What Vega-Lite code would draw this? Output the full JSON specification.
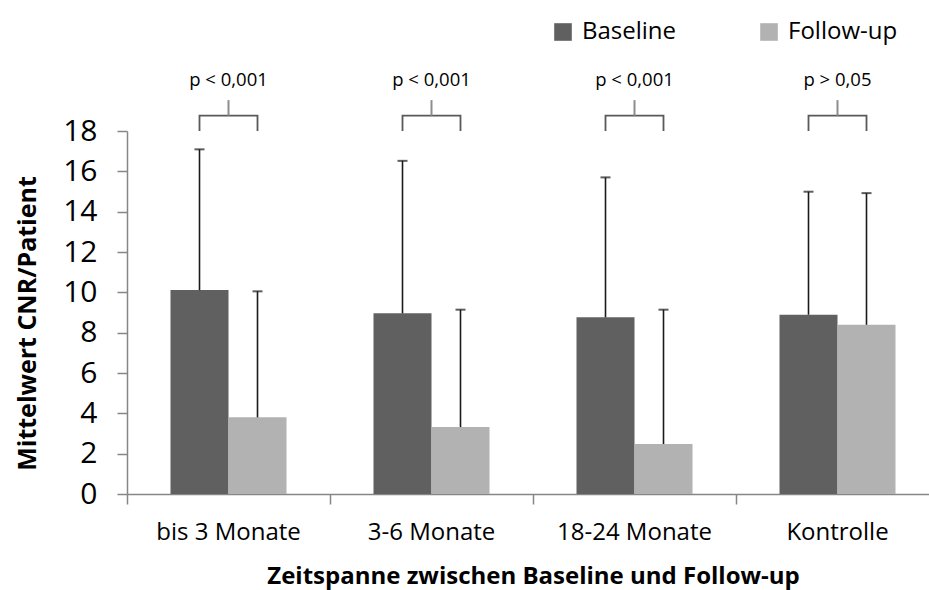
{
  "$schema": "https://vega.github.io/schema/vega-lite/v6.json",
  "width": 802,
  "height": 363,
  "autosize": {"type": "none"},
  "padding": {"left": 127, "top": 131, "right": 0, "bottom": 96},
  "background": "white",
  "config": {"view": {"stroke": null}, "font": "Open Sans", "axis": {"grid": false}},
  "datasets": {
    "bars": [
      {"cat": "bis 3 Monate", "series": "Baseline", "value": 10.11, "upper": 17.09},
      {"cat": "bis 3 Monate", "series": "Follow-up", "value": 3.80, "upper": 10.05},
      {"cat": "3-6 Monate", "series": "Baseline", "value": 8.96, "upper": 16.52},
      {"cat": "3-6 Monate", "series": "Follow-up", "value": 3.32, "upper": 9.14},
      {"cat": "18-24 Monate", "series": "Baseline", "value": 8.76, "upper": 15.70},
      {"cat": "18-24 Monate", "series": "Follow-up", "value": 2.48, "upper": 9.14},
      {"cat": "Kontrolle", "series": "Baseline", "value": 8.89, "upper": 14.99},
      {"cat": "Kontrolle", "series": "Follow-up", "value": 8.39, "upper": 14.92}
    ],
    "brackets": [
      {"cat": "bis 3 Monate", "series": "Baseline", "ord": 1, "y": 18.0},
      {"cat": "bis 3 Monate", "series": "Baseline", "ord": 2, "y": 18.76},
      {"cat": "bis 3 Monate", "series": "Follow-up", "ord": 3, "y": 18.76},
      {"cat": "bis 3 Monate", "series": "Follow-up", "ord": 4, "y": 18.0},
      {"cat": "3-6 Monate", "series": "Baseline", "ord": 1, "y": 18.0},
      {"cat": "3-6 Monate", "series": "Baseline", "ord": 2, "y": 18.76},
      {"cat": "3-6 Monate", "series": "Follow-up", "ord": 3, "y": 18.76},
      {"cat": "3-6 Monate", "series": "Follow-up", "ord": 4, "y": 18.0},
      {"cat": "18-24 Monate", "series": "Baseline", "ord": 1, "y": 18.0},
      {"cat": "18-24 Monate", "series": "Baseline", "ord": 2, "y": 18.76},
      {"cat": "18-24 Monate", "series": "Follow-up", "ord": 3, "y": 18.76},
      {"cat": "18-24 Monate", "series": "Follow-up", "ord": 4, "y": 18.0},
      {"cat": "Kontrolle", "series": "Baseline", "ord": 1, "y": 18.0},
      {"cat": "Kontrolle", "series": "Baseline", "ord": 2, "y": 18.76},
      {"cat": "Kontrolle", "series": "Follow-up", "ord": 3, "y": 18.76},
      {"cat": "Kontrolle", "series": "Follow-up", "ord": 4, "y": 18.0}
    ],
    "annots": [
      {"cat": "bis 3 Monate", "p": "p < 0,001", "s1": 18.76, "s2": 19.53, "ty": 20.23},
      {"cat": "3-6 Monate", "p": "p < 0,001", "s1": 18.76, "s2": 19.53, "ty": 20.23},
      {"cat": "18-24 Monate", "p": "p < 0,001", "s1": 18.76, "s2": 19.53, "ty": 20.23},
      {"cat": "Kontrolle", "p": "p > 0,05", "s1": 18.76, "s2": 19.53, "ty": 20.23}
    ]
  },
  "layer": [
    {
      "data": {"name": "bars"},
      "mark": {"type": "bar"},
      "encoding": {
        "x": {
          "field": "cat", "type": "nominal",
          "sort": ["bis 3 Monate", "3-6 Monate", "18-24 Monate", "Kontrolle"],
          "scale": {"range": [0, 812], "paddingInner": 0, "paddingOuter": 0},
          "title": "Zeitspanne zwischen Baseline und Follow-up",
          "axis": {
            "bandPosition": 0, "labelAngle": 0,
            "domainColor": "#868686", "domainWidth": 1.5, "tickColor": "#868686", "tickWidth": 1.5, "tickSize": 10,
            "labelFontSize": 24, "labelColor": "#000", "labelPadding": 16, "labelFont": "Open Sans",
            "titleFontSize": 24, "titleFontWeight": "bold", "titleColor": "#000", "titleFont": "Open Sans",
            "titleX": 406, "titleY": 89, "titleBaseline": "alphabetic"
          }
        },
        "xOffset": {"field": "series", "type": "nominal", "sort": ["Baseline", "Follow-up"], "scale": {"paddingInner": 0, "paddingOuter": 0.75}},
        "y": {
          "field": "value", "type": "quantitative",
          "scale": {"domain": [0, 18], "nice": false},
          "title": "Mittelwert CNR/Patient",
          "axis": {
            "values": [0, 2, 4, 6, 8, 10, 12, 14, 16, 18],
            "domainColor": "#868686", "domainWidth": 1.5, "tickColor": "#868686", "tickWidth": 1.5, "tickSize": 10,
            "labelFontSize": 30, "labelColor": "#000", "labelPadding": 20, "labelFont": "Open Sans",
            "titleFontSize": 25, "titleFontWeight": "bold", "titleColor": "#000", "titleFont": "Open Sans",
            "titleAngle": -90, "titleX": -100, "titleY": 192, "titleAlign": "center", "titleBaseline": "middle"
          }
        },
        "color": {
          "field": "series", "type": "nominal",
          "scale": {"domain": ["Baseline", "Follow-up"], "range": ["#606060", "#b2b2b2"]},
          "legend": {
            "orient": "none", "legendX": 424, "legendY": -111, "direction": "horizontal", "title": null,
            "symbolType": "square", "symbolSize": 310, "symbolStrokeWidth": 0,
            "labelFont": "Open Sans", "labelFontSize": 24, "labelColor": "#000", "labelOffset": 7,
            "columnPadding": 80, "padding": 0
          }
        }
      }
    },
    {
      "data": {"name": "bars"},
      "mark": {"type": "rule", "color": "#1a1a1a", "strokeWidth": 1.6},
      "encoding": {
        "x": {"field": "cat", "type": "nominal", "sort": ["bis 3 Monate", "3-6 Monate", "18-24 Monate", "Kontrolle"], "title": "Zeitspanne zwischen Baseline und Follow-up"},
        "xOffset": {"field": "series", "type": "nominal", "sort": ["Baseline", "Follow-up"]},
        "y": {"field": "value", "type": "quantitative", "title": "Mittelwert CNR/Patient"},
        "y2": {"field": "upper"}
      }
    },
    {
      "data": {"name": "bars"},
      "mark": {"type": "tick", "orient": "horizontal", "size": 10, "thickness": 2, "color": "#1a1a1a"},
      "encoding": {
        "x": {"field": "cat", "type": "nominal", "sort": ["bis 3 Monate", "3-6 Monate", "18-24 Monate", "Kontrolle"], "title": "Zeitspanne zwischen Baseline und Follow-up"},
        "xOffset": {"field": "series", "type": "nominal", "sort": ["Baseline", "Follow-up"]},
        "y": {"field": "upper", "type": "quantitative", "title": "Mittelwert CNR/Patient"}
      }
    },
    {
      "data": {"name": "brackets"},
      "mark": {"type": "line", "color": "#595959", "strokeWidth": 1.8},
      "encoding": {
        "x": {"field": "cat", "type": "nominal", "sort": ["bis 3 Monate", "3-6 Monate", "18-24 Monate", "Kontrolle"], "title": "Zeitspanne zwischen Baseline und Follow-up"},
        "xOffset": {"field": "series", "type": "nominal", "sort": ["Baseline", "Follow-up"]},
        "y": {"field": "y", "type": "quantitative", "title": "Mittelwert CNR/Patient"},
        "detail": {"field": "cat"},
        "order": {"field": "ord"}
      }
    },
    {
      "data": {"name": "annots"},
      "mark": {"type": "rule", "color": "#8c8c8c", "strokeWidth": 2},
      "encoding": {
        "x": {"field": "cat", "type": "nominal", "sort": ["bis 3 Monate", "3-6 Monate", "18-24 Monate", "Kontrolle"], "title": "Zeitspanne zwischen Baseline und Follow-up"},
        "y": {"field": "s1", "type": "quantitative", "title": "Mittelwert CNR/Patient"},
        "y2": {"field": "s2"}
      }
    },
    {
      "data": {"name": "annots"},
      "mark": {"type": "text", "fontSize": 18.5, "font": "Open Sans", "baseline": "alphabetic", "align": "center", "color": "#000"},
      "encoding": {
        "x": {"field": "cat", "type": "nominal", "sort": ["bis 3 Monate", "3-6 Monate", "18-24 Monate", "Kontrolle"], "title": "Zeitspanne zwischen Baseline und Follow-up"},
        "y": {"field": "ty", "type": "quantitative", "title": "Mittelwert CNR/Patient"},
        "text": {"field": "p"}
      }
    }
  ]
}
